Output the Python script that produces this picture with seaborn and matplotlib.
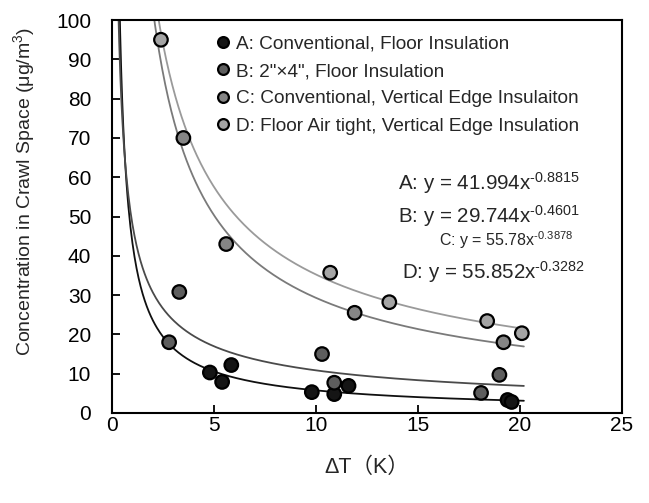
import numpy as np
import pandas as pd
import seaborn as sns
import matplotlib.pyplot as plt

# data
a_x = [4.8, 5.4, 5.85, 9.8, 10.9, 11.6, 19.4, 19.6]
a_y = [10.3, 7.9, 12.2, 5.3, 4.8, 6.9, 3.3, 2.8]
b_x = [2.8, 3.3, 10.3, 10.9, 18.1, 19.0]
b_y = [18.0, 30.8, 15.0, 7.7, 5.1, 9.7]
c_x = [3.5, 5.6, 11.9, 19.2]
c_y = [70.0, 43.0, 25.5, 18.0]
d_x = [2.4, 10.7, 13.6, 18.4, 20.1]
d_y = [95.0, 35.7, 28.2, 23.4, 20.3]

labels = ["A: Conventional, Floor Insulation",
          "B: 2\"\u00d74\", Floor Insulation",
          "C: Conventional, Vertical Edge Insulaiton",
          "D: Floor Air tight, Vertical Edge Insulation"]
equations = ["A: y = 41.994x$^{\u20100.8815}$", "B: y = 29.744x$^{\u20100.4601}$",
             "C: y = 55.78x$^{\u20100.3878}$", "D: y = 55.852x$^{\u20100.3282}$"]
fills = ["#151515", "#5e5e5e", "#858585", "#a5a5a5"]
line_colors = ["#101010", "#4a4a4a", "#7a7a7a", "#9a9a9a"]

groups = [(a_x, a_y), (b_x, b_y), (c_x, c_y), (d_x, d_y)]
df = pd.concat([pd.DataFrame({"dT": gx, "conc": gy, "group": lab})
                for (gx, gy), lab in zip(groups, labels)], ignore_index=True)

sns.set_style("ticks")
plt.rcParams["font.family"] = ["Liberation Sans", "Noto Sans CJK JP", "DejaVu Sans"]
plt.rcParams["mathtext.fontset"] = "custom"
plt.rcParams["mathtext.rm"] = "Liberation Sans"
plt.rcParams["mathtext.it"] = "Liberation Sans"

fig = plt.figure(figsize=(6.49, 5.03), dpi=100)
ax = fig.add_axes([0.1726, 0.179, 0.7854, 0.781])

# power-law trendlines fitted on the points (like a spreadsheet trendline)
xs = np.linspace(0.2, 20.2, 400)
for (gx, gy), col in zip(groups, line_colors):
    b, lna = np.polyfit(np.log(gx), np.log(gy), 1)
    ax.plot(xs, np.exp(lna) * xs ** b, color=col, lw=1.3, zorder=2)

sns.scatterplot(data=df, x="dT", y="conc", hue="group", palette=fills,
                s=95, edgecolor="black", linewidth=1.6, ax=ax, zorder=3)

ax.set_xlim(0, 25)
ax.set_ylim(0, 100)
ax.set_xticks(range(0, 26, 5))
ax.set_yticks(range(0, 101, 10))
ax.tick_params(direction="in", length=6, width=1.3, labelsize=15,
               colors="black")
ax.tick_params(axis="y", pad=15)
ax.tick_params(axis="x", pad=2)
for sp in ax.spines.values():
    sp.set_visible(True)
    sp.set_linewidth(1.5)
    sp.set_color("black")

ax.set_xlabel("\u0394T\uff08K\uff09", fontsize=15.5, labelpad=16)
ax.set_ylabel("Concentration in Crawl Space (\u03bcg/m$^3$)", fontsize=14)
ax.yaxis.set_label_coords(-0.147, 0.565)

leg = ax.legend(loc="upper left", bbox_to_anchor=(0.19, 0.98), frameon=False,
                fontsize=13.7, markerscale=0.8, handlelength=0.7,
                handletextpad=0.3, labelspacing=0.52, borderaxespad=0)

# equation text
eq_pos = [(0.918, 0.585), (0.918, 0.501), (0.906, 0.44), (0.927, 0.359)]
eq_size = [14.8, 14.8, 11.5, 14.8]
for txt, (px, py), fs in zip(equations, eq_pos, eq_size):
    ax.text(px, py, txt, transform=ax.transAxes, ha="right", va="center",
            fontsize=fs)

plt.savefig("out.png", dpi=100)
plt.close()
